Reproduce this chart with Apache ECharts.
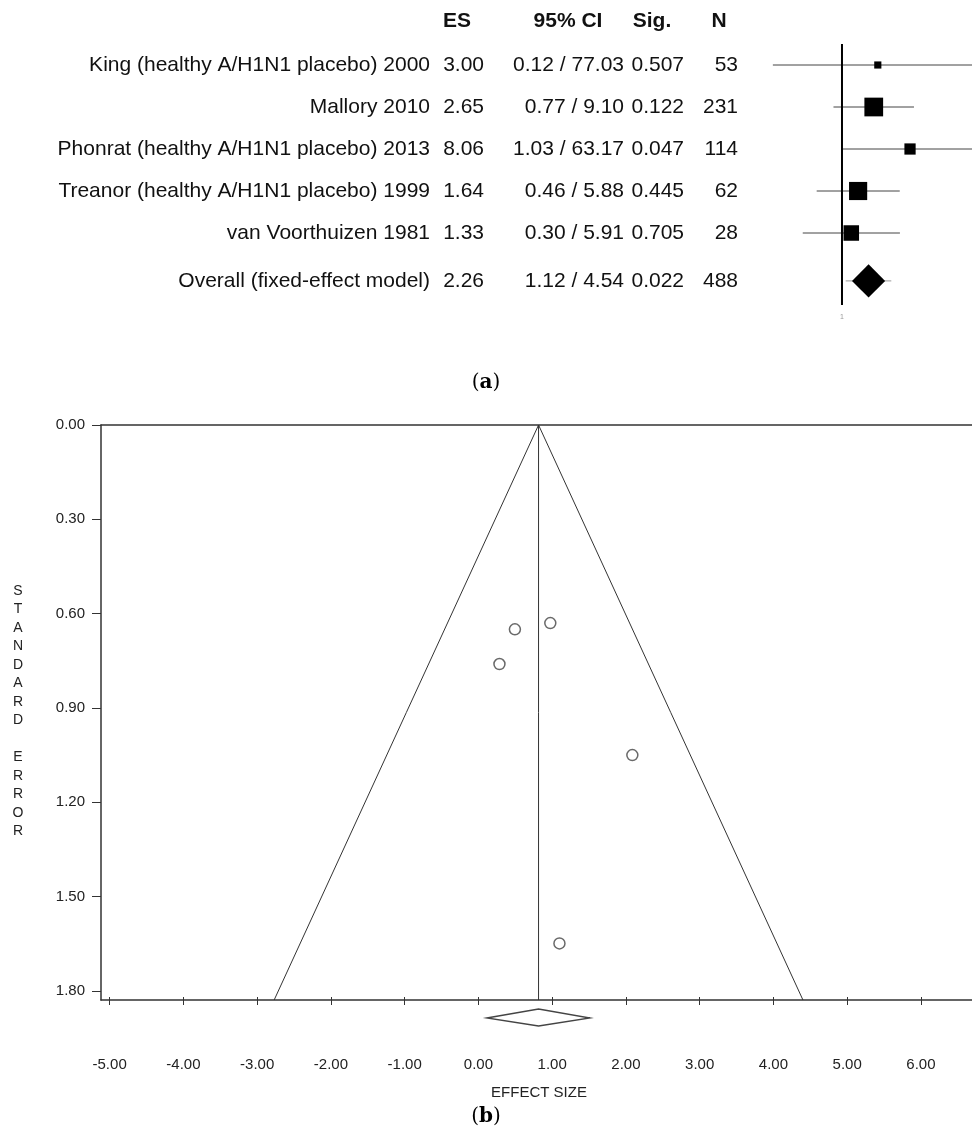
<!DOCTYPE html>
<html><head><meta charset="utf-8">
<script src="https://cdn.jsdelivr.net/npm/echarts@6.0.0/dist/echarts.min.js"></script>
<style>html,body{margin:0;padding:0;background:#fff}#c{width:972px;height:1136px}</style>
</head><body><div id="c"></div>
<script>
// ---- data ----
const studies = ['King (healthy A/H1N1 placebo) 2000','Mallory 2010','Phonrat (healthy A/H1N1 placebo) 2013','Treanor (healthy A/H1N1 placebo) 1999','van Voorthuizen 1981'];
const esValues = [3.00, 2.65, 8.06, 1.64, 1.33];
const ciLower = [0.12, 0.77, 1.03, 0.46, 0.30];
const ciUpper = [77.03, 9.10, 63.17, 5.88, 5.91];
const sigValues = ['0.507','0.122','0.047','0.445','0.705'];
const nValues = [53, 231, 114, 62, 28];
const overallLabel = 'Overall (fixed-effect model)';
const overallES = 2.26, overallLower = 1.12, overallUpper = 4.54, overallSig = '0.022', overallN = 488;
const tableHeaders = ['ES', '95% CI', 'Sig.', 'N'];
const xTickValues = [-5, -4, -3, -2, -1, 0, 1, 2, 3, 4, 5, 6];
const yTickValues = [0, 0.3, 0.6, 0.9, 1.2, 1.5, 1.8];
const forestTickValues = [1];

// ---- derived ----
const ln = Math.log, Z = 1.96;
const effects = esValues.map(v => ln(v));
const ses = esValues.map((_, i) => (ln(ciUpper[i]) - ln(ciLower[i])) / (2 * Z));
const pooled = ln(overallES);
const funnelXMin = -5.117, funnelXMax = 6.692, funnelYMax = 1.829;
const forestXMin = -2.515, forestXMax = 3.988, forestYMin = -0.5, forestYMax = 5.714;
const OVERALL_ROW = 5.14;
const SQUARE_K = 11.8;
const SANS = '"Liberation Sans", Arial, sans-serif';
const TXT = '#111';

const fmt2 = v => v.toFixed(2);
const rows = studies.map((s, i) => ({
  name: s, es: fmt2(esValues[i]), ci: fmt2(ciLower[i]) + ' / ' + fmt2(ciUpper[i]), sig: sigValues[i], n: String(nValues[i]), row: i
}));
rows.push({name: overallLabel, es: fmt2(overallES), ci: fmt2(overallLower) + ' / ' + fmt2(overallUpper), sig: overallSig, n: String(overallN), row: OVERALL_ROW});

const chart = echarts.init(document.getElementById('c'), null, {renderer: 'canvas', width: 972, height: 1136});

function txt(text, x, y, align, size, weight, color) {
  return {type: 'text', x: x, y: y, style: {text: text, fill: color || TXT, fontSize: size, fontWeight: weight || 'normal',
    fontFamily: SANS, align: align, textAlign: align, verticalAlign: 'middle', textVerticalAlign: 'middle'}};
}
const serifRich = {
  p: {fontFamily: '"DejaVu Serif", serif', fontSize: 20, fill: '#000', color: '#000'},
  b: {fontFamily: '"DejaVu Serif", serif', fontSize: 20, fontWeight: 'bold', fill: '#000', color: '#000'}
};

const option = {
  animation: false,
  backgroundColor: '#fff',
  grid: [
    {left: 101, right: 0, top: 425, height: 575},
    {left: 760, right: 0, top: 44, height: 261}
  ],
  xAxis: [
    {type: 'value', gridIndex: 0, position: 'bottom', min: funnelXMin, max: funnelXMax,
      axisLine: {show: true, onZero: false, lineStyle: {color: '#333', width: 1.5}},
      axisTick: {show: true, length: 5, customValues: xTickValues, lineStyle: {color: '#333', width: 1}},
      axisLabel: {customValues: xTickValues, formatter: v => fmt2(v), margin: 57, fontSize: 15, color: '#222', fontFamily: SANS},
      splitLine: {show: false}},
    {type: 'value', gridIndex: 0, position: 'top', min: funnelXMin, max: funnelXMax,
      axisLine: {show: true, onZero: false, lineStyle: {color: '#333', width: 1.5}},
      axisTick: {show: false}, axisLabel: {show: false}, splitLine: {show: false}},
    {type: 'value', gridIndex: 1, min: forestXMin, max: forestXMax,
      axisLine: {show: false}, axisTick: {show: false}, splitLine: {show: false},
      axisLabel: {customValues: forestTickValues.map(v => ln(v)), formatter: v => String(Math.round(Math.exp(v))), fontSize: 7, color: '#999', margin: 9, fontFamily: SANS}},
    {type: 'value', gridIndex: 0, position: 'bottom', offset: 0, min: funnelXMin, max: funnelXMax,
      axisLine: {show: false, onZero: false},
      axisTick: {show: true, inside: true, length: 3, customValues: xTickValues, lineStyle: {color: '#333', width: 1}},
      axisLabel: {show: false}, splitLine: {show: false}}
  ],
  yAxis: [
    {type: 'value', gridIndex: 0, inverse: true, min: 0, max: funnelYMax,
      axisLine: {show: true, onZero: false, lineStyle: {color: '#333', width: 1.5}},
      axisTick: {show: true, length: 9, customValues: yTickValues, lineStyle: {color: '#333', width: 1}},
      axisLabel: {customValues: yTickValues, formatter: v => fmt2(v), margin: 16, fontSize: 15, color: '#222', fontFamily: SANS},
      splitLine: {show: false}},
    {type: 'value', gridIndex: 1, inverse: true, min: forestYMin, max: forestYMax, show: false, splitLine: {show: false}}
  ],
  series: [
    {type: 'line', xAxisIndex: 0, yAxisIndex: 0, symbol: 'none', silent: true,
      lineStyle: {color: '#333', width: 1},
      data: [[pooled - Z * funnelYMax, funnelYMax], [pooled, 0], [pooled + Z * funnelYMax, funnelYMax]]},
    {type: 'line', xAxisIndex: 0, yAxisIndex: 0, symbol: 'none', silent: true,
      lineStyle: {color: '#333', width: 1},
      data: [[pooled, 0], [pooled, funnelYMax]]},
    {type: 'scatter', xAxisIndex: 0, yAxisIndex: 0, symbol: 'circle', symbolSize: 11,
      itemStyle: {color: '#fff', borderColor: '#444', borderWidth: 1.5},
      data: effects.map((e, i) => [e, ses[i]])},
    {type: 'custom', xAxisIndex: 0, yAxisIndex: 0, clip: false, silent: true,
      data: [[pooled, funnelYMax]],
      renderItem: (params, api) => {
        const c = api.coord([pooled, funnelYMax]);
        const lo = api.coord([ln(overallLower), funnelYMax])[0];
        const hi = api.coord([ln(overallUpper), funnelYMax])[0];
        const y0 = c[1];
        return {type: 'polygon', shape: {points: [[lo, y0 + 18], [c[0], y0 + 9], [hi, y0 + 18], [c[0], y0 + 26]]},
          style: {fill: '#fff', stroke: '#444', lineWidth: 1.3}};
      }},
    {type: 'line', xAxisIndex: 2, yAxisIndex: 1, symbol: 'none', silent: true,
      lineStyle: {color: '#000', width: 2},
      data: [[0, forestYMin], [0, forestYMax]]},
    {type: 'custom', xAxisIndex: 2, yAxisIndex: 1, clip: false, silent: true,
      data: rows.map((r, i) => [i < studies.length ? effects[i] : pooled, r.row]),
      renderItem: (params, api) => {
        const i = params.dataIndex;
        if (i < studies.length) {
          const y = api.coord([0, i])[1];
          const xl = api.coord([ln(ciLower[i]), i])[0];
          const xh = api.coord([ln(ciUpper[i]), i])[0];
          const xc = api.coord([effects[i], i])[0];
          const s = SQUARE_K / ses[i];
          return {type: 'group', children: [
            {type: 'line', shape: {x1: xl, y1: y, x2: xh, y2: y}, style: {stroke: '#444', lineWidth: 1}},
            {type: 'rect', shape: {x: xc - s / 2, y: y - s / 2, width: s, height: s}, style: {fill: '#000'}}
          ]};
        }
        const y = api.coord([0, OVERALL_ROW])[1];
        const xl = api.coord([ln(overallLower), OVERALL_ROW])[0];
        const xh = api.coord([ln(overallUpper), OVERALL_ROW])[0];
        const xc = api.coord([pooled, OVERALL_ROW])[0];
        const w = SQUARE_K * Math.sqrt(ses.reduce((a, se) => a + 1 / (se * se), 0)) / 2;
        return {type: 'group', children: [
          {type: 'line', shape: {x1: xl, y1: y, x2: xh, y2: y}, style: {stroke: '#999', lineWidth: 1}},
          {type: 'polygon', shape: {points: [[xc - w, y], [xc, y - w], [xc + w, y], [xc, y + w]]}, style: {fill: '#000'}}
        ]};
      }},
    {type: 'custom', xAxisIndex: 2, yAxisIndex: 1, clip: false, silent: true,
      data: rows.map(r => [0, r.row]),
      renderItem: (params, api) => {
        const r = rows[params.dataIndex];
        const y = api.coord([0, r.row])[1];
        return {type: 'group', children: [
          txt(r.name, 430, y, 'right', 21),
          txt(r.es, 484, y, 'right', 21),
          txt(r.ci, 624, y, 'right', 21),
          txt(r.sig, 684, y, 'right', 21),
          txt(r.n, 738, y, 'right', 21)
        ]};
      }}
  ],
  graphic: [
    txt(tableHeaders[0], 457, 21, 'center', 21, 'bold'),
    txt(tableHeaders[1], 568, 21, 'center', 21, 'bold'),
    txt(tableHeaders[2], 652, 21, 'center', 21, 'bold'),
    txt(tableHeaders[3], 719, 21, 'center', 21, 'bold'),
    {type: 'text', x: 18, y: 711, style: {text: 'STANDARD ERROR'.split('').join('\n'), fill: '#222', fontSize: 14,
      fontFamily: SANS, lineHeight: 18.5, align: 'center', textAlign: 'center', verticalAlign: 'middle', textVerticalAlign: 'middle'}},
    txt('EFFECT SIZE', 539, 1093, 'center', 15, 'normal', '#222'),
    {type: 'text', x: 486, y: 383, style: {text: '{p|(}{b|a}{p|)}', align: 'center', textAlign: 'center', verticalAlign: 'middle', textVerticalAlign: 'middle', rich: serifRich}},
    {type: 'text', x: 486, y: 1117, style: {text: '{p|(}{b|b}{p|)}', align: 'center', textAlign: 'center', verticalAlign: 'middle', textVerticalAlign: 'middle', rich: serifRich}}
  ]
};
chart.setOption(option);
</script>
</body></html>
